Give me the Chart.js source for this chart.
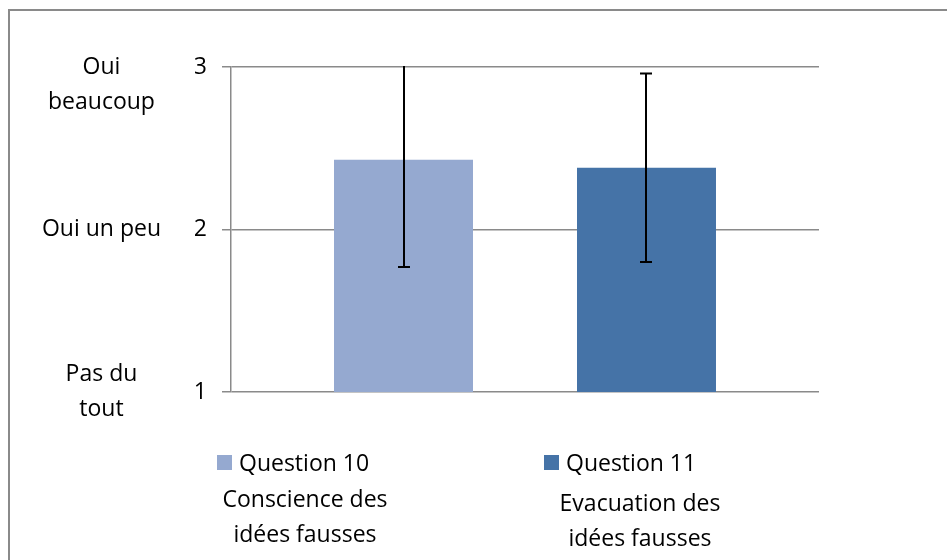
<!DOCTYPE html>
<html>
<head>
<meta charset="utf-8">
<script src="https://cdn.jsdelivr.net/npm/chart.js@4"></script>
<style>
  html, body { margin:0; padding:0; background:#fff; overflow:hidden; }
  #wrap { position:relative; width:947px; height:560px; overflow:hidden; font-family:"Open Sans", sans-serif; color:#000; }
  #frame { position:absolute; left:8px; top:9px; width:1000px; height:700px; border:2px solid #8a8a8a; }
  #chart { position:absolute; left:0; top:0; }
  .leg { position:absolute; font-size:23px; line-height:33px; white-space:nowrap; }
  .box { position:absolute; width:15px; height:15px; }
  .note { position:absolute; font-size:23px; line-height:35px; text-align:center; width:240px; }
</style>
</head>
<body>
<div id="wrap">
  <div id="frame"></div>
  <canvas id="chart" width="947" height="560"></canvas>
  <div id="legend"></div>
</div>
<script>
// =======================
// Data
const categories = [''];
const seriesNames = ['Question 10', 'Question 11'];
const seriesMeans = [2.43, 2.38];
const seriesErrors = [0.66, 0.58];
const seriesColors = ['#95A9D0', '#4573A7'];
const seriesNotes = [['Conscience des', 'idées fausses'], ['Evacuation des', 'idées fausses']];
const yTicks = [1, 2, 3];
const yWords = [['Pas du', 'tout'], 'Oui un peu', ['', 'Oui', 'beaucoup']];

const FONT = '"Open Sans", sans-serif';

// =======================
// Error bars drawn after the bars
const errorBars = {
  id: 'errorBars',
  afterDatasetsDraw(chart) {
    const {ctx, chartArea, scales} = chart;
    const y = scales.y;
    ctx.save();
    ctx.beginPath();
    ctx.rect(chartArea.left, chartArea.top - 1, chartArea.right - chartArea.left, chartArea.bottom - chartArea.top + 2);
    ctx.clip();
    ctx.strokeStyle = '#000';
    ctx.lineWidth = 2;
    seriesMeans.forEach((m, i) => {
      const bar = chart.getDatasetMeta(i).data[0];
      const x = Math.round(bar.x);
      const top = y.getPixelForValue(m + seriesErrors[i]);
      const bot = y.getPixelForValue(m - seriesErrors[i]);
      ctx.beginPath();
      ctx.moveTo(x, top); ctx.lineTo(x, bot);
      ctx.moveTo(x - 6, top); ctx.lineTo(x + 6, top);
      ctx.moveTo(x - 6, bot); ctx.lineTo(x + 6, bot);
      ctx.stroke();
    });
    ctx.restore();
  }
};

// axis widths are fixed and label overhang is ignored, so the plot area sits where the reference has it
function fixAxis(width) {
  return s => {
    s.width = width;
    s.paddingTop = 0;
    s.paddingBottom = 0;
  };
}

// =======================
// Chart
new Chart(document.getElementById('chart'), {
  type: 'bar',
  data: {
    labels: categories,
    datasets: seriesNames.map((name, i) => ({
      label: name,
      data: [seriesMeans[i]],
      backgroundColor: seriesColors[i],
      categoryPercentage: 0.8265,
      barPercentage: 0.572
    }))
  },
  options: {
    responsive: false,
    animation: false,
    layout: { padding: { top: 67, right: 128, bottom: 168, left: 0 } },
    plugins: { legend: { display: false }, tooltip: { enabled: false } },
    scales: {
      x: { display: false },
      y: {
        position: 'left',
        weight: 0,
        min: 1, max: 3,
        afterBuildTicks: s => { s.ticks = yTicks.map(v => ({value: v})); },
        afterFit: fixAxis(36),
        ticks: { color: '#000', padding: 15, font: { family: FONT, size: 23 } },
        grid: { color: '#8a8a8a', lineWidth: 1.5, tickLength: 9, drawTicks: true },
        border: { display: true, color: '#8a8a8a', width: 1.5 }
      },
      yText: {
        type: 'linear',
        position: 'left',
        weight: 1,
        min: 1, max: 3,
        afterBuildTicks: s => { s.ticks = yTicks.map(v => ({value: v})); },
        afterFit: fixAxis(195),
        ticks: {
          color: '#000', padding: 34, crossAlign: 'center',
          font: { family: FONT, size: 23, lineHeight: 1.52 },
          callback: v => yWords[yTicks.indexOf(v)]
        },
        grid: { display: false, drawTicks: false },
        border: { display: false }
      }
    }
  },
  plugins: [errorBars]
});

// =======================
// Legend with notes
const legendBox = [217, 544];
const legend = document.getElementById('legend');
seriesNames.forEach((name, i) => {
  legend.innerHTML += `
    <div class="box" style="left:${legendBox[i]}px;top:455px;background:${seriesColors[i]}"></div>
    <div class="leg" style="left:${legendBox[i] + 22}px;top:446px">${name}</div>
    <div class="note" style="left:${[185, 520][i]}px;top:${[481, 485][i]}px">${seriesNotes[i].join('<br>')}</div>
  `;
});
</script>
</body>
</html>
